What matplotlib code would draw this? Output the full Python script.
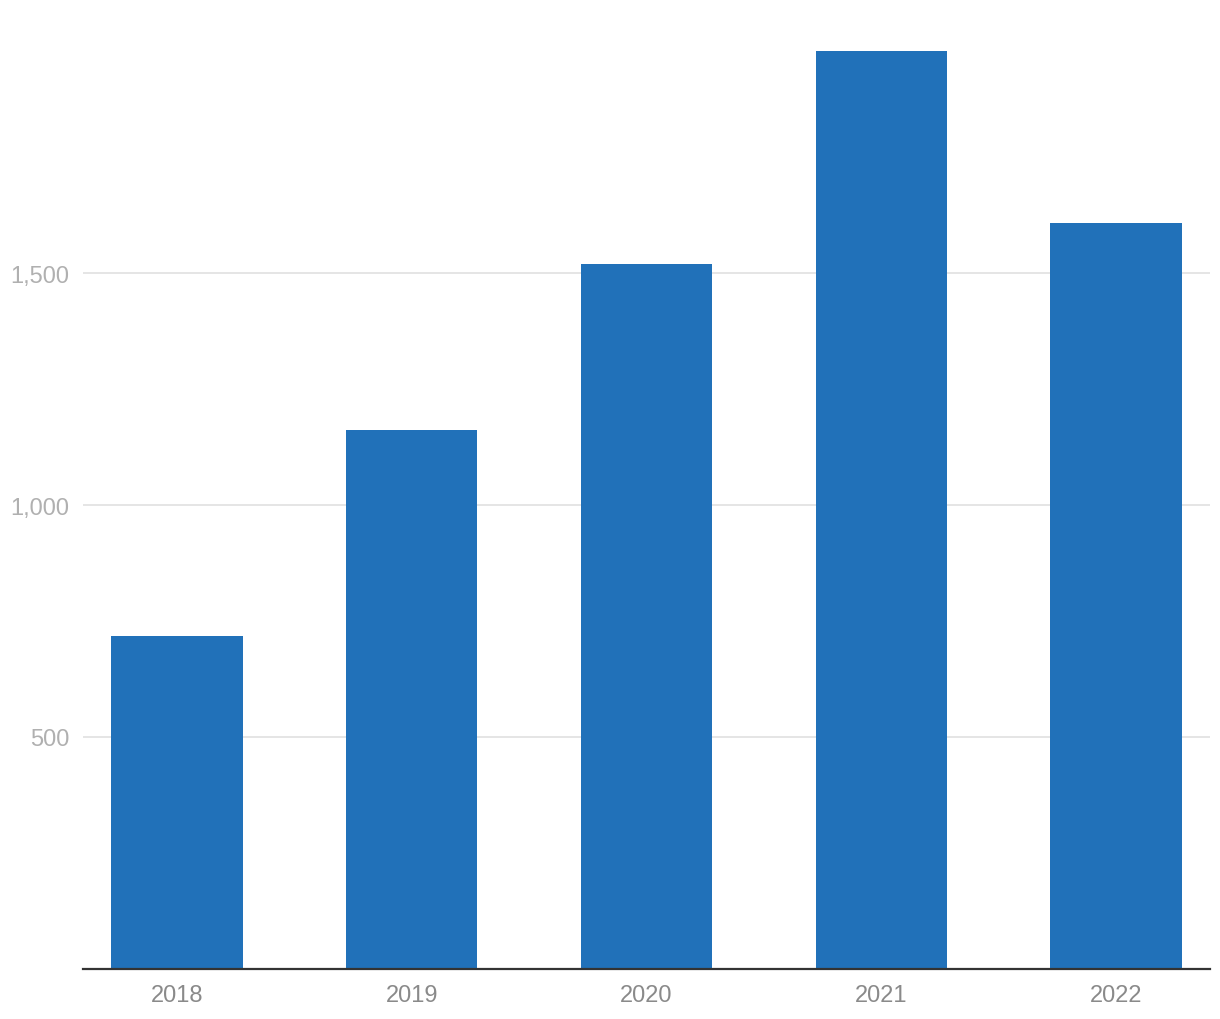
import numpy as np
import matplotlib.pyplot as plt

years = ["2018", "2019", "2020", "2021", "2022"]
values = [717, 1161, 1520, 1981, 1608]
yticks = [500, 1000, 1500]
ytick_labels = ["500", "1,000", "1,500"]

plt.rcParams['font.family'] = ['Liberation Sans', 'DejaVu Sans']

fig = plt.figure(figsize=(12.2, 10.2), dpi=100)
ax = fig.add_axes([0.068, 0.0495, 0.9238, 0.9])

x = np.arange(len(years))
ax.bar(x, values, width=0.56, color='#2171b9', zorder=3)

ax.set_xlim(-0.4, len(years) - 0.6)
ax.set_ylim(0, max(values))
ax.set_xticks(x)
ax.set_xticklabels(years, fontsize=17, color='#8a8a8a')
ax.set_yticks(yticks)
ax.set_yticklabels(ytick_labels, fontsize=17, color='#b0b0b0')
ax.tick_params(axis='both', length=0)
ax.tick_params(axis='x', pad=11)
ax.tick_params(axis='y', pad=10)

ax.grid(axis='y', color='#e3e3e3', linewidth=1.3, zorder=0)
for s in ['top', 'right', 'left']:
    ax.spines[s].set_visible(False)
ax.spines['bottom'].set_color('#333333')
ax.spines['bottom'].set_linewidth(1.6)
ax.spines['bottom'].set_zorder(4)

fig.savefig('out.png', dpi=100)
